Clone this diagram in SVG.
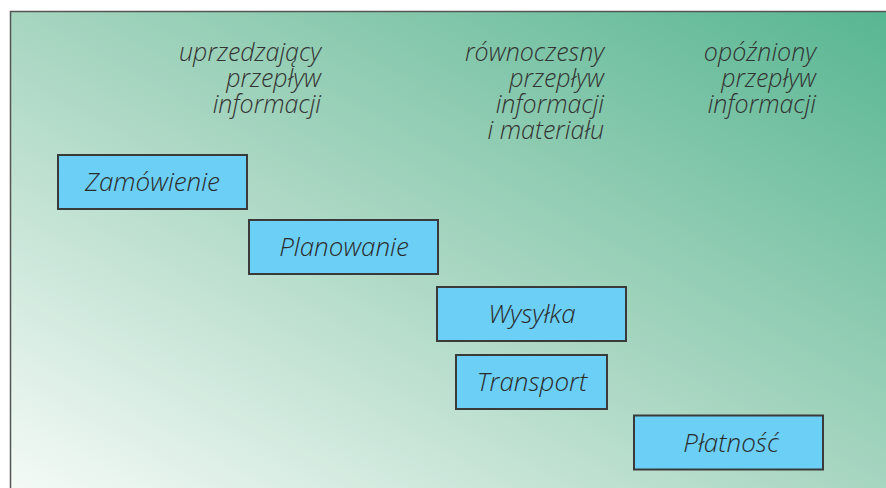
<svg xmlns="http://www.w3.org/2000/svg" width="886" height="488" viewBox="0 0 886 488">
<defs>
<linearGradient id="bg" x1="0" y1="1" x2="1" y2="0">
<stop offset="0" stop-color="#f4faf6"/>
<stop offset="0.5" stop-color="#a6d5c0"/>
<stop offset="1" stop-color="#58b692"/>
</linearGradient>
<style>
.box{fill:#6ccff5;stroke:#3a3a3a;stroke-width:2}
.lbl{font-family:"Open Sans","Liberation Sans",sans-serif;font-style:italic;font-weight:300;font-size:26px;fill:#2b2b2b;text-anchor:middle}
.hdr{font-family:"Open Sans","Liberation Sans",sans-serif;font-style:italic;font-weight:300;font-size:25px;fill:#333;text-anchor:end}
</style>
</defs>
<rect x="0" y="0" width="886" height="488" fill="#ffffff"/>
<rect x="10" y="11" width="876" height="477" fill="url(#bg)"/>
<path d="M10.5,488 V11.5 H886" fill="none" stroke="#555" stroke-width="1.5"/>
<g id="headers">
<text class="hdr" x="321" y="61">uprzedzający</text>
<text class="hdr" x="321" y="87">przepływ</text>
<text class="hdr" x="321" y="113">informacji</text>
<text class="hdr" x="604" y="61">równoczesny</text>
<text class="hdr" x="604" y="87">przepływ</text>
<text class="hdr" x="604" y="113">informacji</text>
<text class="hdr" x="604" y="139">i materiału</text>
<text class="hdr" x="816" y="61">opóźniony</text>
<text class="hdr" x="816" y="87">przepływ</text>
<text class="hdr" x="816" y="113">informacji</text>
</g>
<g id="zamowienie">
<rect class="box" x="58" y="155" width="189" height="54"/>
<text class="lbl" x="152.5" y="191">Zamówienie</text>
</g>
<g id="planowanie">
<rect class="box" x="249" y="220" width="189" height="54"/>
<text class="lbl" x="344" y="256">Planowanie</text>
</g>
<g id="wysylka">
<rect class="box" x="437" y="287" width="189" height="54"/>
<text class="lbl" x="532" y="323">Wysyłka</text>
</g>
<g id="transport">
<rect class="box" x="456" y="355" width="151" height="54"/>
<text class="lbl" x="532" y="391">Transport</text>
</g>
<g id="platnosc">
<rect class="box" x="634" y="415.5" width="189" height="54"/>
<text class="lbl" x="731" y="451.5">Płatność</text>
</g>
<g id="connectors"></g>
</svg>
